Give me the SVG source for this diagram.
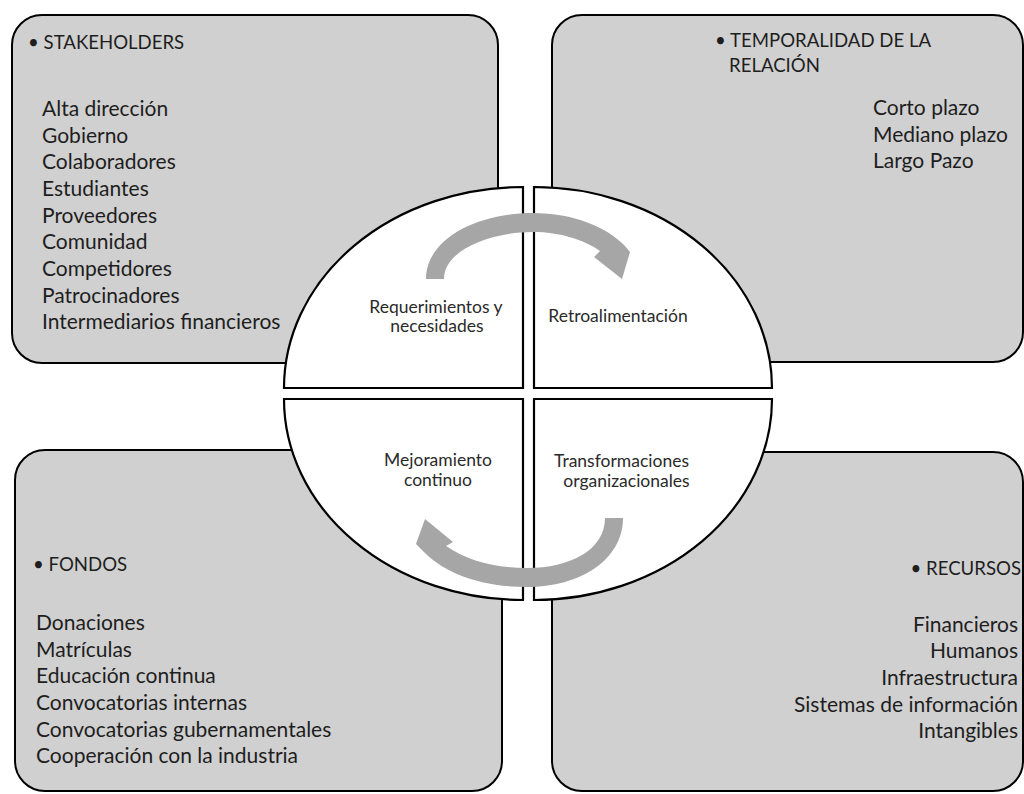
<svg xmlns="http://www.w3.org/2000/svg" width="1024" height="794" viewBox="0 0 1024 794">
<style>
.box{fill:#d0d0d0;stroke:#000;stroke-width:2}
.quad{fill:#fff;stroke:#000;stroke-width:2.2}
.arrow{fill:#a6a6a6;stroke:none}
.t{font-family:Lato,"Liberation Sans",sans-serif;font-size:21px;fill:#1e1e1e}
.h{font-family:Lato,"Liberation Sans",sans-serif;font-size:18.6px;fill:#1e1e1e}
.c{font-family:Lato,"Liberation Sans",sans-serif;font-size:17.5px;fill:#2a2a2a;text-anchor:middle}
.r{text-anchor:end}
</style>
<rect width="1024" height="794" fill="#fff"/>
<g id="stakeholders">
<rect class="box" x="12" y="15" width="486" height="348" rx="30" ry="30"/>
<text class="h" x="28" y="49">• STAKEHOLDERS</text>
<text class="t" x="42" y="116">Alta dirección</text>
<text class="t" x="42" y="142.7">Gobierno</text>
<text class="t" x="42" y="169.3">Colaboradores</text>
<text class="t" x="42" y="196">Estudiantes</text>
<text class="t" x="42" y="222.7">Proveedores</text>
<text class="t" x="42" y="249.3">Comunidad</text>
<text class="t" x="42" y="276">Competidores</text>
<text class="t" x="42" y="302.7">Patrocinadores</text>
<text class="t" x="42" y="329.3">Intermediarios financieros</text>
</g>
<g id="temporalidad">
<rect class="box" x="552" y="15" width="471" height="347" rx="30" ry="30"/>
<text class="h" x="715" y="47">• TEMPORALIDAD DE LA</text>
<text class="h" x="729" y="72">RELACIÓN</text>
<text class="t" x="873" y="115">Corto plazo</text>
<text class="t" x="873" y="141.7">Mediano plazo</text>
<text class="t" x="873" y="168.3">Largo Pazo</text>
</g>
<g id="fondos">
<rect class="box" x="15" y="450" width="487" height="341" rx="30" ry="30"/>
<text class="h" x="33" y="571">• FONDOS</text>
<text class="t" x="36" y="630">Donaciones</text>
<text class="t" x="36" y="656.7">Matrículas</text>
<text class="t" x="36" y="683.3">Educación continua</text>
<text class="t" x="36" y="710">Convocatorias internas</text>
<text class="t" x="36" y="736.7">Convocatorias gubernamentales</text>
<text class="t" x="36" y="763.3">Cooperación con la industria</text>
</g>
<g id="recursos">
<rect class="box" x="552" y="452" width="471" height="339" rx="30" ry="30"/>
<text class="h r" x="1021" y="575">• RECURSOS</text>
<text class="t r" x="1018" y="631.7">Financieros</text>
<text class="t r" x="1018" y="658.3">Humanos</text>
<text class="t r" x="1018" y="685">Infraestructura</text>
<text class="t r" x="1018" y="711.7">Sistemas de información</text>
<text class="t r" x="1018" y="738.3">Intangibles</text>
</g>
<g id="requerimientos">
<path class="quad" d="M523 388 L284 388 A239 201 0 0 1 523 187 Z"/>
</g>
<g id="retroalimentacion">
<path class="quad" d="M534 388 L534 187 A238 201 0 0 1 772 388 Z"/>
</g>
<g id="mejoramiento">
<path class="quad" d="M523 399 L523 600 A239 201 0 0 1 284 399 Z"/>
</g>
<g id="transformaciones">
<path class="quad" d="M534 399 L772 399 A238 201 0 0 1 534 600 Z"/>
</g>
<g id="connectors">
<path class="arrow" d="M426 279 C426 240 475 213 533 213 C573 213 607 227 625 246 L630 252 L622 279 L594 257 L600 251 C585 240 560 232 533 232 C490 232 444 250 444 279 Z"/>
<path class="arrow" d="M623 518 C623 560 580 587 527 587 C480 587 443 573 421 549 L416 544 L425 519 L453 542 L446 546 C468 561 495 568 527 568 C570 568 605 550 605 518 Z"/>
</g>
<g id="labels">
<text class="c" x="436" y="312.7">Requerimientos y</text>
<text class="c" x="437" y="331.7">necesidades</text>
<text class="c" x="618" y="321.7">Retroalimentación</text>
<text class="c" x="438" y="466">Mejoramiento</text>
<text class="c" x="438" y="485.7">continuo</text>
<text class="c" x="621.5" y="466.7">Transformaciones</text>
<text class="c" x="626.5" y="486.7">organizacionales</text>
</g>
</svg>
